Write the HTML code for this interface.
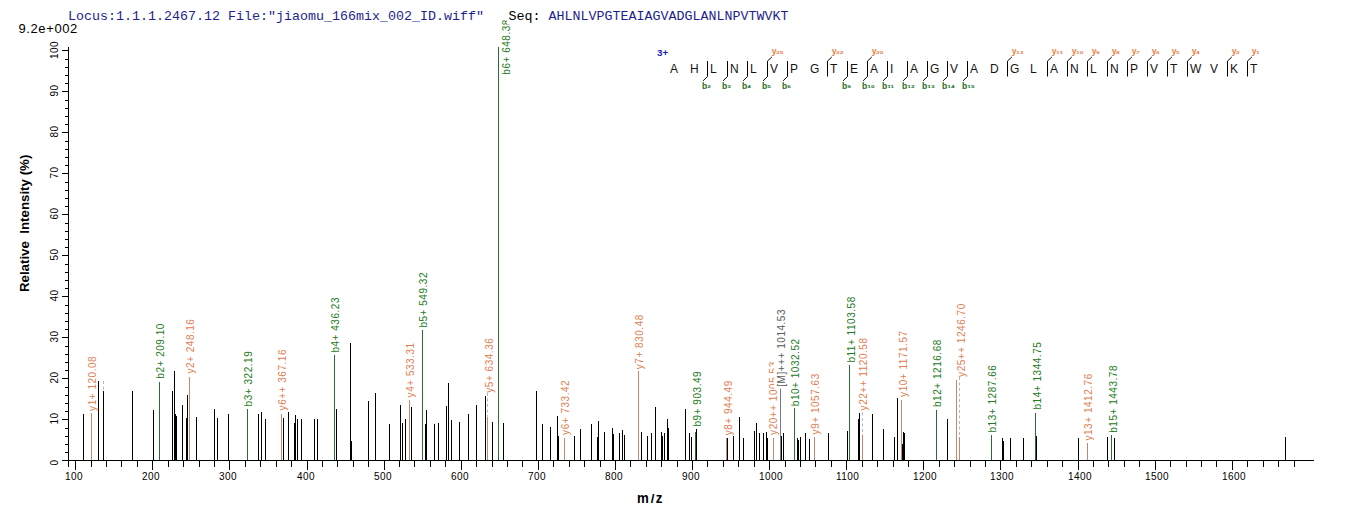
<!DOCTYPE html><html><head><meta charset="utf-8"><style>html,body{margin:0;padding:0;background:#fff;width:1362px;height:520px;overflow:hidden}svg{display:block}.t{font-family:"Liberation Sans",Arial,sans-serif}.lb{font-family:"Liberation Sans",Arial,sans-serif;font-size:10px;letter-spacing:0.45px}.pl{font-family:"Liberation Sans",Arial,sans-serif;font-size:10px;letter-spacing:0.53px}.mono{font-family:"Liberation Mono","Courier New",monospace;font-size:13.33px}</style></head><body>
<svg width="1362" height="520" viewBox="0 0 1362 520">
<text class="t" x="18.5" y="33" font-size="13" letter-spacing="0.6" fill="#000">9.2e+002</text>
<rect x="68" y="47" width="1" height="414" fill="#000"/><rect x="62" y="460" width="1252" height="1" fill="#000"/><rect x="62" y="460" width="6" height="1" fill="#000"/><rect x="65" y="452" width="3" height="1" fill="#000"/><rect x="65" y="444" width="3" height="1" fill="#000"/><rect x="65" y="436" width="3" height="1" fill="#000"/><rect x="65" y="428" width="3" height="1" fill="#000"/><rect x="62" y="419" width="6" height="1" fill="#000"/><rect x="65" y="411" width="3" height="1" fill="#000"/><rect x="65" y="403" width="3" height="1" fill="#000"/><rect x="65" y="395" width="3" height="1" fill="#000"/><rect x="65" y="387" width="3" height="1" fill="#000"/><rect x="62" y="378" width="6" height="1" fill="#000"/><rect x="65" y="370" width="3" height="1" fill="#000"/><rect x="65" y="362" width="3" height="1" fill="#000"/><rect x="65" y="354" width="3" height="1" fill="#000"/><rect x="65" y="346" width="3" height="1" fill="#000"/><rect x="62" y="337" width="6" height="1" fill="#000"/><rect x="65" y="329" width="3" height="1" fill="#000"/><rect x="65" y="321" width="3" height="1" fill="#000"/><rect x="65" y="313" width="3" height="1" fill="#000"/><rect x="65" y="305" width="3" height="1" fill="#000"/><rect x="62" y="296" width="6" height="1" fill="#000"/><rect x="65" y="288" width="3" height="1" fill="#000"/><rect x="65" y="280" width="3" height="1" fill="#000"/><rect x="65" y="272" width="3" height="1" fill="#000"/><rect x="65" y="264" width="3" height="1" fill="#000"/><rect x="62" y="255" width="6" height="1" fill="#000"/><rect x="65" y="247" width="3" height="1" fill="#000"/><rect x="65" y="239" width="3" height="1" fill="#000"/><rect x="65" y="231" width="3" height="1" fill="#000"/><rect x="65" y="223" width="3" height="1" fill="#000"/><rect x="62" y="214" width="6" height="1" fill="#000"/><rect x="65" y="206" width="3" height="1" fill="#000"/><rect x="65" y="198" width="3" height="1" fill="#000"/><rect x="65" y="190" width="3" height="1" fill="#000"/><rect x="65" y="182" width="3" height="1" fill="#000"/><rect x="62" y="173" width="6" height="1" fill="#000"/><rect x="65" y="165" width="3" height="1" fill="#000"/><rect x="65" y="157" width="3" height="1" fill="#000"/><rect x="65" y="149" width="3" height="1" fill="#000"/><rect x="65" y="141" width="3" height="1" fill="#000"/><rect x="62" y="132" width="6" height="1" fill="#000"/><rect x="65" y="124" width="3" height="1" fill="#000"/><rect x="65" y="116" width="3" height="1" fill="#000"/><rect x="65" y="108" width="3" height="1" fill="#000"/><rect x="65" y="100" width="3" height="1" fill="#000"/><rect x="62" y="91" width="6" height="1" fill="#000"/><rect x="65" y="83" width="3" height="1" fill="#000"/><rect x="65" y="75" width="3" height="1" fill="#000"/><rect x="65" y="67" width="3" height="1" fill="#000"/><rect x="65" y="59" width="3" height="1" fill="#000"/><rect x="62" y="50" width="6" height="1" fill="#000"/><text class="lb" transform="translate(58.3,462.5) rotate(-90)" text-anchor="middle" fill="#000">0</text><text class="lb" transform="translate(58.3,418.6) rotate(-90)" text-anchor="middle" fill="#000">10</text><text class="lb" transform="translate(58.3,377.6) rotate(-90)" text-anchor="middle" fill="#000">20</text><text class="lb" transform="translate(58.3,336.6) rotate(-90)" text-anchor="middle" fill="#000">30</text><text class="lb" transform="translate(58.3,295.6) rotate(-90)" text-anchor="middle" fill="#000">40</text><text class="lb" transform="translate(58.3,254.6) rotate(-90)" text-anchor="middle" fill="#000">50</text><text class="lb" transform="translate(58.3,213.6) rotate(-90)" text-anchor="middle" fill="#000">60</text><text class="lb" transform="translate(58.3,172.6) rotate(-90)" text-anchor="middle" fill="#000">70</text><text class="lb" transform="translate(58.3,131.6) rotate(-90)" text-anchor="middle" fill="#000">80</text><text class="lb" transform="translate(58.3,90.6) rotate(-90)" text-anchor="middle" fill="#000">90</text><text class="lb" transform="translate(58.3,49.9) rotate(-90)" text-anchor="middle" fill="#000">100</text><rect x="68" y="461" width="1" height="6" fill="#000"/><rect x="75" y="461" width="1" height="9" fill="#000"/><text class="lb" x="64.9" y="480" fill="#000">100</text><rect x="91" y="461" width="1" height="6" fill="#000"/><rect x="106" y="461" width="1" height="6" fill="#000"/><rect x="121" y="461" width="1" height="6" fill="#000"/><rect x="137" y="461" width="1" height="6" fill="#000"/><rect x="152" y="461" width="1" height="9" fill="#000"/><text class="lb" x="141.9" y="480" fill="#000">200</text><rect x="168" y="461" width="1" height="6" fill="#000"/><rect x="183" y="461" width="1" height="6" fill="#000"/><rect x="199" y="461" width="1" height="6" fill="#000"/><rect x="214" y="461" width="1" height="6" fill="#000"/><rect x="229" y="461" width="1" height="9" fill="#000"/><text class="lb" x="218.9" y="480" fill="#000">300</text><rect x="245" y="461" width="1" height="6" fill="#000"/><rect x="260" y="461" width="1" height="6" fill="#000"/><rect x="276" y="461" width="1" height="6" fill="#000"/><rect x="291" y="461" width="1" height="6" fill="#000"/><rect x="307" y="461" width="1" height="9" fill="#000"/><text class="lb" x="296.9" y="480" fill="#000">400</text><rect x="322" y="461" width="1" height="6" fill="#000"/><rect x="337" y="461" width="1" height="6" fill="#000"/><rect x="353" y="461" width="1" height="6" fill="#000"/><rect x="368" y="461" width="1" height="6" fill="#000"/><rect x="384" y="461" width="1" height="9" fill="#000"/><text class="lb" x="373.9" y="480" fill="#000">500</text><rect x="399" y="461" width="1" height="6" fill="#000"/><rect x="414" y="461" width="1" height="6" fill="#000"/><rect x="430" y="461" width="1" height="6" fill="#000"/><rect x="445" y="461" width="1" height="6" fill="#000"/><rect x="461" y="461" width="1" height="9" fill="#000"/><text class="lb" x="450.9" y="480" fill="#000">600</text><rect x="476" y="461" width="1" height="6" fill="#000"/><rect x="492" y="461" width="1" height="6" fill="#000"/><rect x="507" y="461" width="1" height="6" fill="#000"/><rect x="522" y="461" width="1" height="6" fill="#000"/><rect x="538" y="461" width="1" height="9" fill="#000"/><text class="lb" x="527.9" y="480" fill="#000">700</text><rect x="553" y="461" width="1" height="6" fill="#000"/><rect x="569" y="461" width="1" height="6" fill="#000"/><rect x="584" y="461" width="1" height="6" fill="#000"/><rect x="600" y="461" width="1" height="6" fill="#000"/><rect x="615" y="461" width="1" height="9" fill="#000"/><text class="lb" x="604.9" y="480" fill="#000">800</text><rect x="630" y="461" width="1" height="6" fill="#000"/><rect x="646" y="461" width="1" height="6" fill="#000"/><rect x="661" y="461" width="1" height="6" fill="#000"/><rect x="677" y="461" width="1" height="6" fill="#000"/><rect x="692" y="461" width="1" height="9" fill="#000"/><text class="lb" x="681.9" y="480" fill="#000">900</text><rect x="707" y="461" width="1" height="6" fill="#000"/><rect x="723" y="461" width="1" height="6" fill="#000"/><rect x="738" y="461" width="1" height="6" fill="#000"/><rect x="754" y="461" width="1" height="6" fill="#000"/><rect x="769" y="461" width="1" height="9" fill="#000"/><text class="lb" x="758.9" y="480" fill="#000">1000</text><rect x="785" y="461" width="1" height="6" fill="#000"/><rect x="800" y="461" width="1" height="6" fill="#000"/><rect x="815" y="461" width="1" height="6" fill="#000"/><rect x="831" y="461" width="1" height="6" fill="#000"/><rect x="846" y="461" width="1" height="9" fill="#000"/><text class="lb" x="835.9" y="480" fill="#000">1100</text><rect x="862" y="461" width="1" height="6" fill="#000"/><rect x="877" y="461" width="1" height="6" fill="#000"/><rect x="893" y="461" width="1" height="6" fill="#000"/><rect x="908" y="461" width="1" height="6" fill="#000"/><rect x="923" y="461" width="1" height="9" fill="#000"/><text class="lb" x="912.9" y="480" fill="#000">1200</text><rect x="939" y="461" width="1" height="6" fill="#000"/><rect x="954" y="461" width="1" height="6" fill="#000"/><rect x="970" y="461" width="1" height="6" fill="#000"/><rect x="985" y="461" width="1" height="6" fill="#000"/><rect x="1000" y="461" width="1" height="9" fill="#000"/><text class="lb" x="989.9" y="480" fill="#000">1300</text><rect x="1016" y="461" width="1" height="6" fill="#000"/><rect x="1031" y="461" width="1" height="6" fill="#000"/><rect x="1047" y="461" width="1" height="6" fill="#000"/><rect x="1062" y="461" width="1" height="6" fill="#000"/><rect x="1078" y="461" width="1" height="9" fill="#000"/><text class="lb" x="1067.9" y="480" fill="#000">1400</text><rect x="1093" y="461" width="1" height="6" fill="#000"/><rect x="1108" y="461" width="1" height="6" fill="#000"/><rect x="1124" y="461" width="1" height="6" fill="#000"/><rect x="1139" y="461" width="1" height="6" fill="#000"/><rect x="1155" y="461" width="1" height="9" fill="#000"/><text class="lb" x="1144.9" y="480" fill="#000">1500</text><rect x="1170" y="461" width="1" height="6" fill="#000"/><rect x="1186" y="461" width="1" height="6" fill="#000"/><rect x="1201" y="461" width="1" height="6" fill="#000"/><rect x="1216" y="461" width="1" height="6" fill="#000"/><rect x="1232" y="461" width="1" height="9" fill="#000"/><text class="lb" x="1221.9" y="480" fill="#000">1600</text><rect x="1247" y="461" width="1" height="6" fill="#000"/><rect x="1263" y="461" width="1" height="6" fill="#000"/><rect x="1278" y="461" width="1" height="6" fill="#000"/><rect x="1294" y="461" width="1" height="6" fill="#000"/>
<text class="t" x="637" y="502.8" font-size="13.3" font-weight="bold" fill="#000" transform="translate(0,-83.6) scale(1,1.166)" >m</text>
<text class="t" x="650.8" y="502.8" font-size="13.3" font-weight="bold" fill="#000">/</text>
<text class="t" x="655.8" y="502.8" font-size="13.3" font-weight="bold" fill="#000" transform="translate(0,-83.6) scale(1,1.166)">z</text>
<text class="t" transform="translate(28.6,223.4) rotate(-90)" font-size="13.3" font-weight="bold" text-anchor="middle" fill="#000" xml:space="preserve">Relative  Intensity (%)</text>
<line x1="103.5" y1="381.0" x2="103.5" y2="391.2" stroke="#b8b8b8" stroke-width="1" stroke-dasharray="3,2.5"/>
<line x1="487.5" y1="393.0" x2="487.5" y2="416.6" stroke="#b8b8b8" stroke-width="1" stroke-dasharray="3,2.5"/>
<line x1="862.5" y1="412.5" x2="862.5" y2="434.8" stroke="#b8b8b8" stroke-width="1" stroke-dasharray="3,2.5"/>
<line x1="959.5" y1="377.0" x2="959.5" y2="436.7" stroke="#b8b8b8" stroke-width="1" stroke-dasharray="3,2.5"/>
<rect x="83" y="414" width="1" height="46" fill="#000000"/>
<rect x="91" y="413" width="1" height="47" fill="#c98668"/>
<rect x="98" y="381" width="1" height="79" fill="#000000"/>
<rect x="103" y="391" width="1" height="69" fill="#000000"/>
<rect x="132" y="391" width="1" height="69" fill="#000000"/>
<rect x="153" y="410" width="1" height="50" fill="#000000"/>
<rect x="159" y="382" width="1" height="78" fill="#276e30"/>
<rect x="172" y="391" width="1" height="69" fill="#000000"/>
<rect x="174" y="371" width="1" height="89" fill="#000000"/>
<rect x="175" y="414" width="1" height="46" fill="#000000"/>
<rect x="176" y="416" width="1" height="44" fill="#000000"/>
<rect x="176" y="418" width="1" height="42" fill="#000000"/>
<rect x="182" y="405" width="1" height="55" fill="#000000"/>
<rect x="186" y="418" width="1" height="42" fill="#000000"/>
<rect x="187" y="395" width="1" height="65" fill="#000000"/>
<rect x="189" y="377" width="1" height="83" fill="#c98668"/>
<rect x="196" y="417" width="1" height="43" fill="#000000"/>
<rect x="214" y="409" width="1" height="51" fill="#000000"/>
<rect x="217" y="418" width="1" height="42" fill="#000000"/>
<rect x="228" y="414" width="1" height="46" fill="#000000"/>
<rect x="247" y="409" width="1" height="51" fill="#276e30"/>
<rect x="258" y="414" width="1" height="46" fill="#000000"/>
<rect x="261" y="412" width="1" height="48" fill="#000000"/>
<rect x="265" y="419" width="1" height="41" fill="#000000"/>
<rect x="281" y="414" width="1" height="46" fill="#c98668"/>
<rect x="283" y="418" width="1" height="42" fill="#000000"/>
<rect x="288" y="412" width="1" height="48" fill="#000000"/>
<rect x="294" y="423" width="1" height="37" fill="#000000"/>
<rect x="295" y="415" width="1" height="45" fill="#000000"/>
<rect x="297" y="419" width="1" height="41" fill="#000000"/>
<rect x="301" y="419" width="1" height="41" fill="#000000"/>
<rect x="314" y="419" width="1" height="41" fill="#000000"/>
<rect x="317" y="419" width="1" height="41" fill="#000000"/>
<rect x="334" y="355" width="1" height="105" fill="#276e30"/>
<rect x="336" y="409" width="1" height="51" fill="#000000"/>
<rect x="350" y="343" width="1" height="117" fill="#000000"/>
<rect x="351" y="441" width="1" height="19" fill="#000000"/>
<rect x="368" y="401" width="1" height="59" fill="#000000"/>
<rect x="375" y="393" width="1" height="67" fill="#000000"/>
<rect x="389" y="424" width="1" height="36" fill="#000000"/>
<rect x="400" y="405" width="1" height="55" fill="#000000"/>
<rect x="402" y="423" width="1" height="37" fill="#000000"/>
<rect x="405" y="419" width="1" height="41" fill="#000000"/>
<rect x="409" y="400" width="1" height="60" fill="#c98668"/>
<rect x="411" y="407" width="1" height="53" fill="#000000"/>
<rect x="422" y="330" width="1" height="130" fill="#276e30"/>
<rect x="425" y="424" width="1" height="36" fill="#000000"/>
<rect x="426" y="410" width="1" height="50" fill="#000000"/>
<rect x="434" y="424" width="1" height="36" fill="#000000"/>
<rect x="438" y="423" width="1" height="37" fill="#000000"/>
<rect x="446" y="406" width="1" height="54" fill="#000000"/>
<rect x="448" y="383" width="1" height="77" fill="#000000"/>
<rect x="451" y="420" width="1" height="40" fill="#000000"/>
<rect x="459" y="422" width="1" height="38" fill="#000000"/>
<rect x="468" y="414" width="1" height="46" fill="#000000"/>
<rect x="476" y="405" width="1" height="55" fill="#000000"/>
<rect x="485" y="396" width="1" height="64" fill="#000000"/>
<rect x="487" y="417" width="1" height="43" fill="#c98668"/>
<rect x="492" y="422" width="1" height="38" fill="#000000"/>
<rect x="498" y="47" width="1" height="413" fill="#276e30"/>
<rect x="503" y="423" width="1" height="37" fill="#000000"/>
<rect x="536" y="391" width="1" height="69" fill="#000000"/>
<rect x="542" y="424" width="1" height="36" fill="#000000"/>
<rect x="550" y="427" width="1" height="33" fill="#000000"/>
<rect x="557" y="416" width="1" height="44" fill="#000000"/>
<rect x="558" y="436" width="1" height="24" fill="#000000"/>
<rect x="564" y="438" width="1" height="22" fill="#c98668"/>
<rect x="574" y="436" width="1" height="24" fill="#000000"/>
<rect x="580" y="429" width="1" height="31" fill="#000000"/>
<rect x="591" y="424" width="1" height="36" fill="#000000"/>
<rect x="597" y="437" width="1" height="23" fill="#000000"/>
<rect x="598" y="421" width="1" height="39" fill="#000000"/>
<rect x="604" y="432" width="1" height="28" fill="#000000"/>
<rect x="612" y="428" width="1" height="32" fill="#000000"/>
<rect x="613" y="434" width="1" height="26" fill="#000000"/>
<rect x="619" y="433" width="1" height="27" fill="#000000"/>
<rect x="622" y="430" width="1" height="30" fill="#000000"/>
<rect x="624" y="435" width="1" height="25" fill="#000000"/>
<rect x="638" y="371" width="1" height="89" fill="#c98668"/>
<rect x="641" y="432" width="1" height="28" fill="#000000"/>
<rect x="647" y="436" width="1" height="24" fill="#000000"/>
<rect x="651" y="433" width="1" height="27" fill="#000000"/>
<rect x="655" y="407" width="1" height="53" fill="#000000"/>
<rect x="661" y="432" width="1" height="28" fill="#000000"/>
<rect x="662" y="436" width="1" height="24" fill="#000000"/>
<rect x="664" y="433" width="1" height="27" fill="#000000"/>
<rect x="667" y="419" width="1" height="41" fill="#000000"/>
<rect x="668" y="428" width="1" height="32" fill="#000000"/>
<rect x="685" y="409" width="1" height="51" fill="#000000"/>
<rect x="689" y="433" width="1" height="27" fill="#000000"/>
<rect x="691" y="437" width="1" height="23" fill="#000000"/>
<rect x="695" y="432" width="1" height="28" fill="#276e30"/>
<rect x="696" y="429" width="1" height="31" fill="#000000"/>
<rect x="726" y="438" width="1" height="22" fill="#c98668"/>
<rect x="727" y="438" width="1" height="22" fill="#000000"/>
<rect x="733" y="436" width="1" height="24" fill="#000000"/>
<rect x="739" y="417" width="1" height="43" fill="#000000"/>
<rect x="743" y="438" width="1" height="22" fill="#000000"/>
<rect x="754" y="431" width="1" height="29" fill="#000000"/>
<rect x="756" y="423" width="1" height="37" fill="#000000"/>
<rect x="759" y="433" width="1" height="27" fill="#000000"/>
<rect x="763" y="433" width="1" height="27" fill="#000000"/>
<rect x="766" y="432" width="1" height="28" fill="#000000"/>
<rect x="767" y="438" width="1" height="22" fill="#000000"/>
<rect x="773" y="438" width="1" height="22" fill="#c98668"/>
<rect x="780" y="387" width="1" height="73" fill="#7a7a82"/>
<rect x="781" y="436" width="1" height="24" fill="#000000"/>
<rect x="783" y="433" width="1" height="27" fill="#000000"/>
<rect x="794" y="408" width="1" height="52" fill="#276e30"/>
<rect x="797" y="438" width="1" height="22" fill="#000000"/>
<rect x="798" y="440" width="1" height="20" fill="#000000"/>
<rect x="800" y="437" width="1" height="23" fill="#000000"/>
<rect x="805" y="433" width="1" height="27" fill="#000000"/>
<rect x="809" y="439" width="1" height="21" fill="#000000"/>
<rect x="814" y="437" width="1" height="23" fill="#c98668"/>
<rect x="828" y="433" width="1" height="27" fill="#000000"/>
<rect x="847" y="431" width="1" height="29" fill="#000000"/>
<rect x="849" y="365" width="1" height="95" fill="#276e30"/>
<rect x="858" y="419" width="1" height="41" fill="#000000"/>
<rect x="859" y="413" width="1" height="47" fill="#000000"/>
<rect x="862" y="435" width="1" height="25" fill="#c98668"/>
<rect x="872" y="414" width="1" height="46" fill="#000000"/>
<rect x="883" y="429" width="1" height="31" fill="#000000"/>
<rect x="894" y="437" width="1" height="23" fill="#000000"/>
<rect x="897" y="398" width="1" height="62" fill="#000000"/>
<rect x="901" y="400" width="1" height="60" fill="#c98668"/>
<rect x="902" y="444" width="1" height="16" fill="#000000"/>
<rect x="903" y="432" width="1" height="28" fill="#000000"/>
<rect x="904" y="433" width="1" height="27" fill="#000000"/>
<rect x="936" y="410" width="1" height="50" fill="#276e30"/>
<rect x="947" y="419" width="1" height="41" fill="#000000"/>
<rect x="956" y="380" width="1" height="80" fill="#c98668"/>
<rect x="959" y="437" width="1" height="23" fill="#c98668"/>
<rect x="991" y="435" width="1" height="25" fill="#276e30"/>
<rect x="1002" y="438" width="1" height="22" fill="#000000"/>
<rect x="1003" y="441" width="1" height="19" fill="#000000"/>
<rect x="1010" y="438" width="1" height="22" fill="#000000"/>
<rect x="1023" y="438" width="1" height="22" fill="#000000"/>
<rect x="1035" y="413" width="1" height="47" fill="#276e30"/>
<rect x="1036" y="436" width="1" height="24" fill="#000000"/>
<rect x="1078" y="438" width="1" height="22" fill="#000000"/>
<rect x="1087" y="443" width="1" height="17" fill="#c98668"/>
<rect x="1107" y="437" width="1" height="23" fill="#000000"/>
<rect x="1111" y="435" width="1" height="25" fill="#276e30"/>
<rect x="1114" y="438" width="1" height="22" fill="#000000"/>
<rect x="1285" y="437" width="1" height="23" fill="#000000"/>
<text class="pl" transform="translate(95.5,410.9) rotate(-90)" fill="#dd8054">y1+ 120.08</text>
<text class="pl" transform="translate(163.9,378.7) rotate(-90)" fill="#237a23">b2+ 209.10</text>
<text class="pl" transform="translate(194.0,373.6) rotate(-90)" fill="#dd8054">y2+ 248.16</text>
<text class="pl" transform="translate(252.0,406.4) rotate(-90)" fill="#237a23">b3+ 322.19</text>
<text class="pl" transform="translate(286.1,410.4) rotate(-90)" fill="#dd8054">y6++ 367.16</text>
<text class="pl" transform="translate(338.9,352.6) rotate(-90)" fill="#237a23">b4+ 436.23</text>
<text class="pl" transform="translate(413.8,397.4) rotate(-90)" fill="#dd8054">y4+ 533.31</text>
<text class="pl" transform="translate(426.9,327.6) rotate(-90)" fill="#237a23">b5+ 549.32</text>
<text class="pl" transform="translate(492.5,392.7) rotate(-90)" fill="#dd8054">y5+ 634.36</text>
<text class="pl" transform="translate(509.5,74.7) rotate(-90)" fill="#237a23">b6+ 648.38</text>
<text class="pl" transform="translate(568.8,434.9) rotate(-90)" fill="#dd8054">y6+ 733.42</text>
<text class="pl" transform="translate(643.4,369.2) rotate(-90)" fill="#dd8054">y7+ 830.48</text>
<text class="pl" transform="translate(700.5,426.5) rotate(-90)" fill="#237a23">b9+ 903.49</text>
<text class="pl" transform="translate(731.5,435.3) rotate(-90)" fill="#dd8054">y8+ 944.49</text>
<text class="pl" transform="translate(777.4,434.9) rotate(-90)" fill="#dd8054">y20++ 1005.53</text>
<rect x="774.1" y="306.7" width="13" height="82" fill="#fff"/>
<text class="pl" transform="translate(785.1,386.7) rotate(-90)" fill="#5a5a5a">[M]+++ 1014.53</text>
<text class="pl" transform="translate(799.0,406.2) rotate(-90)" fill="#237a23">b10+ 1032.52</text>
<text class="pl" transform="translate(819.0,434.4) rotate(-90)" fill="#dd8054">y9+ 1057.63</text>
<text class="pl" transform="translate(854.5,362.6) rotate(-90)" fill="#237a23">b11+ 1103.58</text>
<text class="pl" transform="translate(866.6,410.4) rotate(-90)" fill="#dd8054">y22++ 1120.58</text>
<text class="pl" transform="translate(906.8,396.9) rotate(-90)" fill="#dd8054">y10+ 1171.57</text>
<text class="pl" transform="translate(941.3,407.0) rotate(-90)" fill="#237a23">b12+ 1216.68</text>
<text class="pl" transform="translate(965.3,376.9) rotate(-90)" fill="#dd8054">y25++ 1246.70</text>
<text class="pl" transform="translate(996.1,432.5) rotate(-90)" fill="#237a23">b13+ 1287.66</text>
<text class="pl" transform="translate(1041.0,409.5) rotate(-90)" fill="#237a23">b14+ 1344.75</text>
<text class="pl" transform="translate(1092.3,440.5) rotate(-90)" fill="#dd8054">y13+ 1412.76</text>
<text class="pl" transform="translate(1116.9,432.8) rotate(-90)" fill="#237a23">b15+ 1443.78</text>
<text class="t" x="657" y="55.7" font-size="9.8" font-weight="bold" fill="#1e1eb4">3+</text><text class="t" x="670" y="72.7" font-size="12" fill="#141414">A</text><text class="t" x="690" y="72.7" font-size="12" fill="#141414">H</text><text class="t" x="710" y="72.7" font-size="12" fill="#141414">L</text><text class="t" x="730" y="72.7" font-size="12" fill="#141414">N</text><text class="t" x="750" y="72.7" font-size="12" fill="#141414">L</text><text class="t" x="770" y="72.7" font-size="12" fill="#141414">V</text><text class="t" x="790" y="72.7" font-size="12" fill="#141414">P</text><text class="t" x="810" y="72.7" font-size="12" fill="#141414">G</text><text class="t" x="830" y="72.7" font-size="12" fill="#141414">T</text><text class="t" x="850" y="72.7" font-size="12" fill="#141414">E</text><text class="t" x="870" y="72.7" font-size="12" fill="#141414">A</text><text class="t" x="890" y="72.7" font-size="12" fill="#141414">I</text><text class="t" x="910" y="72.7" font-size="12" fill="#141414">A</text><text class="t" x="930" y="72.7" font-size="12" fill="#141414">G</text><text class="t" x="950" y="72.7" font-size="12" fill="#141414">V</text><text class="t" x="970" y="72.7" font-size="12" fill="#141414">A</text><text class="t" x="990" y="72.7" font-size="12" fill="#141414">D</text><text class="t" x="1010" y="72.7" font-size="12" fill="#141414">G</text><text class="t" x="1030" y="72.7" font-size="12" fill="#141414">L</text><text class="t" x="1050" y="72.7" font-size="12" fill="#141414">A</text><text class="t" x="1070" y="72.7" font-size="12" fill="#141414">N</text><text class="t" x="1090" y="72.7" font-size="12" fill="#141414">L</text><text class="t" x="1110" y="72.7" font-size="12" fill="#141414">N</text><text class="t" x="1130" y="72.7" font-size="12" fill="#141414">P</text><text class="t" x="1150" y="72.7" font-size="12" fill="#141414">V</text><text class="t" x="1170" y="72.7" font-size="12" fill="#141414">T</text><text class="t" x="1190" y="72.7" font-size="12" fill="#141414">W</text><text class="t" x="1210" y="72.7" font-size="12" fill="#141414">V</text><text class="t" x="1230" y="72.7" font-size="12" fill="#141414">K</text><text class="t" x="1250" y="72.7" font-size="12" fill="#141414">T</text><path d="M707.5,61 V76.5 L703.1,80.8" stroke="#000" stroke-width="1" fill="none"/><text class="t" x="702.1" y="89" font-size="8.5" font-weight="bold" fill="#1e6e1e">b</text><text class="t" transform="translate(707.3,88.2) scale(1.5,1)" font-size="4.3" font-weight="bold" fill="#1e6e1e">2</text><path d="M727.5,61 V76.5 L723.1,80.8" stroke="#000" stroke-width="1" fill="none"/><text class="t" x="722.1" y="89" font-size="8.5" font-weight="bold" fill="#1e6e1e">b</text><text class="t" transform="translate(727.3,88.2) scale(1.5,1)" font-size="4.3" font-weight="bold" fill="#1e6e1e">3</text><path d="M747.5,61 V76.5 L743.1,80.8" stroke="#000" stroke-width="1" fill="none"/><text class="t" x="742.1" y="89" font-size="8.5" font-weight="bold" fill="#1e6e1e">b</text><text class="t" transform="translate(747.3,88.2) scale(1.5,1)" font-size="4.3" font-weight="bold" fill="#1e6e1e">4</text><path d="M767.5,61 V76.5 L763.1,80.8" stroke="#000" stroke-width="1" fill="none"/><text class="t" x="762.1" y="89" font-size="8.5" font-weight="bold" fill="#1e6e1e">b</text><text class="t" transform="translate(767.3,88.2) scale(1.5,1)" font-size="4.3" font-weight="bold" fill="#1e6e1e">5</text><path d="M787.5,61 V76.5 L783.1,80.8" stroke="#000" stroke-width="1" fill="none"/><text class="t" x="782.1" y="89" font-size="8.5" font-weight="bold" fill="#1e6e1e">b</text><text class="t" transform="translate(787.3,88.2) scale(1.5,1)" font-size="4.3" font-weight="bold" fill="#1e6e1e">6</text><path d="M847.5,61 V76.5 L843.1,80.8" stroke="#000" stroke-width="1" fill="none"/><text class="t" x="842.1" y="89" font-size="8.5" font-weight="bold" fill="#1e6e1e">b</text><text class="t" transform="translate(847.3,88.2) scale(1.5,1)" font-size="4.3" font-weight="bold" fill="#1e6e1e">9</text><path d="M867.5,61 V76.5 L863.1,80.8" stroke="#000" stroke-width="1" fill="none"/><text class="t" x="862.1" y="89" font-size="8.5" font-weight="bold" fill="#1e6e1e">b</text><text class="t" transform="translate(867.3,88.2) scale(1.5,1)" font-size="4.3" font-weight="bold" fill="#1e6e1e">10</text><path d="M887.5,61 V76.5 L883.1,80.8" stroke="#000" stroke-width="1" fill="none"/><text class="t" x="882.1" y="89" font-size="8.5" font-weight="bold" fill="#1e6e1e">b</text><text class="t" transform="translate(887.3,88.2) scale(1.5,1)" font-size="4.3" font-weight="bold" fill="#1e6e1e">11</text><path d="M907.5,61 V76.5 L903.1,80.8" stroke="#000" stroke-width="1" fill="none"/><text class="t" x="902.1" y="89" font-size="8.5" font-weight="bold" fill="#1e6e1e">b</text><text class="t" transform="translate(907.3,88.2) scale(1.5,1)" font-size="4.3" font-weight="bold" fill="#1e6e1e">12</text><path d="M927.5,61 V76.5 L923.1,80.8" stroke="#000" stroke-width="1" fill="none"/><text class="t" x="922.1" y="89" font-size="8.5" font-weight="bold" fill="#1e6e1e">b</text><text class="t" transform="translate(927.3,88.2) scale(1.5,1)" font-size="4.3" font-weight="bold" fill="#1e6e1e">13</text><path d="M947.5,61 V76.5 L943.1,80.8" stroke="#000" stroke-width="1" fill="none"/><text class="t" x="942.1" y="89" font-size="8.5" font-weight="bold" fill="#1e6e1e">b</text><text class="t" transform="translate(947.3,88.2) scale(1.5,1)" font-size="4.3" font-weight="bold" fill="#1e6e1e">14</text><path d="M967.5,61 V76.5 L963.1,80.8" stroke="#000" stroke-width="1" fill="none"/><text class="t" x="962.1" y="89" font-size="8.5" font-weight="bold" fill="#1e6e1e">b</text><text class="t" transform="translate(967.3,88.2) scale(1.5,1)" font-size="4.3" font-weight="bold" fill="#1e6e1e">15</text><path d="M767.5,76.5 V61 L771.8,57" stroke="#000" stroke-width="1" fill="none"/><text class="t" x="771.7" y="54" font-size="8.6" font-weight="bold" fill="#e57f48">y</text><text class="t" transform="translate(776.1,53.7) scale(1.55,1)" font-size="4.3" font-weight="bold" fill="#e57f48">25</text><path d="M827.5,76.5 V61 L831.8,57" stroke="#000" stroke-width="1" fill="none"/><text class="t" x="831.7" y="54" font-size="8.6" font-weight="bold" fill="#e57f48">y</text><text class="t" transform="translate(836.1,53.7) scale(1.55,1)" font-size="4.3" font-weight="bold" fill="#e57f48">22</text><path d="M867.5,76.5 V61 L871.8,57" stroke="#000" stroke-width="1" fill="none"/><text class="t" x="871.7" y="54" font-size="8.6" font-weight="bold" fill="#e57f48">y</text><text class="t" transform="translate(876.1,53.7) scale(1.55,1)" font-size="4.3" font-weight="bold" fill="#e57f48">20</text><path d="M1007.5,76.5 V61 L1011.8,57" stroke="#000" stroke-width="1" fill="none"/><text class="t" x="1011.7" y="54" font-size="8.6" font-weight="bold" fill="#e57f48">y</text><text class="t" transform="translate(1016.1,53.7) scale(1.55,1)" font-size="4.3" font-weight="bold" fill="#e57f48">13</text><path d="M1047.5,76.5 V61 L1051.8,57" stroke="#000" stroke-width="1" fill="none"/><text class="t" x="1051.7" y="54" font-size="8.6" font-weight="bold" fill="#e57f48">y</text><text class="t" transform="translate(1056.1,53.7) scale(1.55,1)" font-size="4.3" font-weight="bold" fill="#e57f48">11</text><path d="M1067.5,76.5 V61 L1071.8,57" stroke="#000" stroke-width="1" fill="none"/><text class="t" x="1071.7" y="54" font-size="8.6" font-weight="bold" fill="#e57f48">y</text><text class="t" transform="translate(1076.1,53.7) scale(1.55,1)" font-size="4.3" font-weight="bold" fill="#e57f48">10</text><path d="M1087.5,76.5 V61 L1091.8,57" stroke="#000" stroke-width="1" fill="none"/><text class="t" x="1091.7" y="54" font-size="8.6" font-weight="bold" fill="#e57f48">y</text><text class="t" transform="translate(1096.1,53.7) scale(1.55,1)" font-size="4.3" font-weight="bold" fill="#e57f48">9</text><path d="M1107.5,76.5 V61 L1111.8,57" stroke="#000" stroke-width="1" fill="none"/><text class="t" x="1111.7" y="54" font-size="8.6" font-weight="bold" fill="#e57f48">y</text><text class="t" transform="translate(1116.1,53.7) scale(1.55,1)" font-size="4.3" font-weight="bold" fill="#e57f48">8</text><path d="M1127.5,76.5 V61 L1131.8,57" stroke="#000" stroke-width="1" fill="none"/><text class="t" x="1131.7" y="54" font-size="8.6" font-weight="bold" fill="#e57f48">y</text><text class="t" transform="translate(1136.1,53.7) scale(1.55,1)" font-size="4.3" font-weight="bold" fill="#e57f48">7</text><path d="M1147.5,76.5 V61 L1151.8,57" stroke="#000" stroke-width="1" fill="none"/><text class="t" x="1151.7" y="54" font-size="8.6" font-weight="bold" fill="#e57f48">y</text><text class="t" transform="translate(1156.1,53.7) scale(1.55,1)" font-size="4.3" font-weight="bold" fill="#e57f48">6</text><path d="M1167.5,76.5 V61 L1171.8,57" stroke="#000" stroke-width="1" fill="none"/><text class="t" x="1171.7" y="54" font-size="8.6" font-weight="bold" fill="#e57f48">y</text><text class="t" transform="translate(1176.1,53.7) scale(1.55,1)" font-size="4.3" font-weight="bold" fill="#e57f48">5</text><path d="M1187.5,76.5 V61 L1191.8,57" stroke="#000" stroke-width="1" fill="none"/><text class="t" x="1191.7" y="54" font-size="8.6" font-weight="bold" fill="#e57f48">y</text><text class="t" transform="translate(1196.1,53.7) scale(1.55,1)" font-size="4.3" font-weight="bold" fill="#e57f48">4</text><path d="M1227.5,76.5 V61 L1231.8,57" stroke="#000" stroke-width="1" fill="none"/><text class="t" x="1231.7" y="54" font-size="8.6" font-weight="bold" fill="#e57f48">y</text><text class="t" transform="translate(1236.1,53.7) scale(1.55,1)" font-size="4.3" font-weight="bold" fill="#e57f48">2</text><path d="M1247.5,76.5 V61 L1251.8,57" stroke="#000" stroke-width="1" fill="none"/><text class="t" x="1251.7" y="54" font-size="8.6" font-weight="bold" fill="#e57f48">y</text><text class="t" transform="translate(1256.1,53.7) scale(1.55,1)" font-size="4.3" font-weight="bold" fill="#e57f48">1</text>
<text class="mono" x="68" y="19.8" fill="#1e1e8e">Locus:1.1.1.2467.12 File:"jiaomu_166mix_002_ID.wiff"</text>
<rect x="507" y="4" width="285" height="20.5" fill="#fff"/>
<text class="mono" x="508.5" y="19.8" fill="#000">Seq: <tspan fill="#1e1e8e">AHLNLVPGTEAIAGVADGLANLNPVTWVKT</tspan></text>
</svg>
</body></html>
